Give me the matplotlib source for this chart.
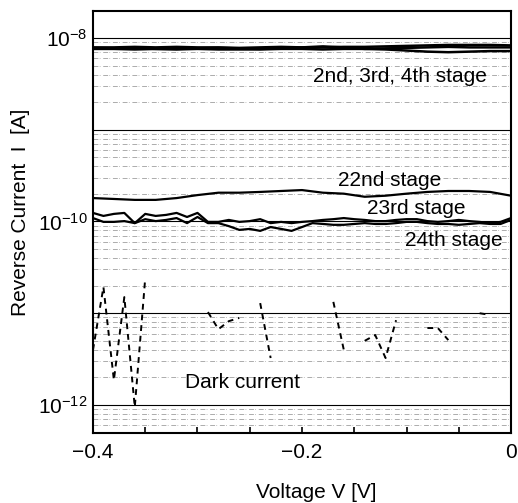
import numpy as np
import matplotlib
matplotlib.use('Agg')
import matplotlib.pyplot as plt

plt.rcParams['font.family'] = ['Liberation Sans', 'DejaVu Sans']
plt.rcParams['mathtext.fontset'] = 'custom'
plt.rcParams['mathtext.rm'] = 'Liberation Sans'
plt.rcParams['mathtext.it'] = 'Liberation Sans:italic'

# voltage grids
v_coarse = np.round(np.arange(-0.40, 0.001, 0.02), 2)   # 21 points
v_fine = np.round(np.arange(-0.40, 0.001, 0.01), 2)     # 41 points

# 2nd, 3rd, 4th stage (x 1e-9 A)
stage2 = [7.9, 7.9, 8.0, 7.9, 8.0, 7.9, 7.9, 7.8, 7.9, 8.0, 7.9,
          7.9, 8.0, 8.0, 8.1, 8.2, 8.3, 8.4, 8.4, 8.4, 8.3]
stage3 = [7.8, 7.7, 7.8, 7.6, 7.6, 7.7, 7.8, 7.7, 7.6, 7.7, 7.9,
          8.1, 7.9, 7.6, 7.7, 7.8, 7.9, 8.0, 7.9, 7.9, 7.9]
stage4 = [7.6, 7.6, 7.5, 7.6, 7.5, 7.6, 7.5, 7.5, 7.5, 7.6, 7.6,
          7.5, 7.6, 7.6, 7.5, 7.3, 7.1, 7.0, 7.1, 7.2, 7.2]

# 22nd stage (x 1e-10 A)
stage22 = [1.80, 1.76, 1.72, 1.72, 1.80, 1.94, 2.06, 2.06, 2.10, 2.15, 2.20,
           2.06, 2.01, 1.86, 1.91, 2.01, 2.10, 2.15, 2.15, 2.10, 1.91]

# 23rd, 24th stage (x 1e-10 A)
stage23 = [1.24, 1.15, 1.21, 1.24, 0.96, 1.21, 1.15, 1.18, 1.24, 1.12, 1.24,
           0.99, 0.99, 1.04, 0.99, 1.01, 1.06, 0.96, 0.99, 0.96, 0.99,
           1.01, 1.04, 1.06, 1.09, 1.06, 1.04, 1.01, 1.01, 1.04, 1.06,
           1.06, 1.01, 0.99, 1.01, 1.04, 1.01, 0.99, 0.96, 0.99, 1.09]
stage24 = [1.09, 0.99, 0.99, 1.01, 0.96, 1.06, 1.01, 1.04, 1.09, 0.96, 1.12,
           0.96, 0.96, 0.89, 0.81, 0.83, 0.79, 0.87, 0.83, 0.79, 0.87,
           0.96, 0.94, 0.92, 0.92, 0.94, 0.96, 0.94, 0.94, 0.96, 0.99,
           0.99, 0.96, 0.94, 0.94, 0.92, 0.94, 0.96, 0.94, 0.94, 1.04]

# dark current (x 1e-12 A), nan = not shown (non-positive)
nan = np.nan
dark = [3.98, 19.3, 1.87, 15.0, 0.95, 24.2, nan, nan, nan, nan, nan,
        10.3, 6.7, 8.2, 8.9, nan, 12.9, 3.25, nan, nan, nan,
        nan, nan, 13.3, 4.0, nan, 5.0, 5.8, 3.25, 8.4, nan,
        nan, 6.9, 6.9, 5.1, nan, nan, 10.0, 9.6, nan, nan]

fig = plt.figure(figsize=(5.18, 5.03), dpi=100)
ax = fig.add_axes([0.1795, 0.1392, 0.807, 0.8389])
ax.set_yscale('log')

# grid: decades solid, minor broken
decades = [1e-12, 1e-11, 1e-10, 1e-9, 1e-8]
ax.set_yticks(decades, labels=[r'$10^{-12}$', '', r'$10^{-10}$', '', r'$10^{-8}$'])
ax.yaxis.grid(True, which='major', color='black', lw=0.8)
ax.yaxis.grid(True, which='minor', color='0.55', lw=0.5, ls=(0, (7, 2, 1, 4)))

for s in (stage2, stage3, stage4):
    ax.plot(v_coarse, np.array(s) * 1e-9, color='black', lw=1.8)
ax.plot(v_coarse, np.array(stage22) * 1e-10, color='black', lw=1.6)
ax.plot(v_fine, np.array(stage23) * 1e-10, color='black', lw=1.6)
ax.plot(v_fine, np.array(stage24) * 1e-10, color='black', lw=1.6)
ax.plot(v_fine, np.array(dark) * 1e-12, color='black', lw=1.4, ls=(0, (3, 2.5)))

fs = 15
ax.text(-0.189, 3.76e-9, '2nd, 3rd, 4th stage', fontsize=fs, va='center')
ax.text(-0.166, 2.83e-10, '22nd stage', fontsize=fs, va='center')
ax.text(-0.138, 1.37e-10, '23rd stage', fontsize=fs, va='center')
ax.text(-0.101, 6.28e-11, '24th stage', fontsize=fs, va='center')
ax.text(-0.312, 1.74e-12, 'Dark current', fontsize=fs, va='center')

ax.set_xlim(-0.4, 0)
ax.set_ylim(10**-12.305, 10**-7.706)
ax.set_xticks([-0.4, -0.2, 0], labels=['\u22120.4', '\u22120.2', '0'])
ax.set_xticks(np.arange(-0.35, 0, 0.05), minor=True)
ax.tick_params(axis='x', which='both', direction='in', length=4, width=1.2,
               labelsize=fs, pad=7)
ax.tick_params(axis='y', which='both', length=0, labelsize=fs, pad=4)
for sp in ax.spines.values():
    sp.set_linewidth(1.5)

ax.set_xlabel('Voltage V [V]', fontsize=fs)
ax.set_ylabel('Reverse Current  I  [A]', fontsize=fs)
ax.xaxis.set_label_coords(0.533, -0.118)
ax.yaxis.set_label_coords(-0.151, 0.524)

fig.savefig('out.png', dpi=100)
